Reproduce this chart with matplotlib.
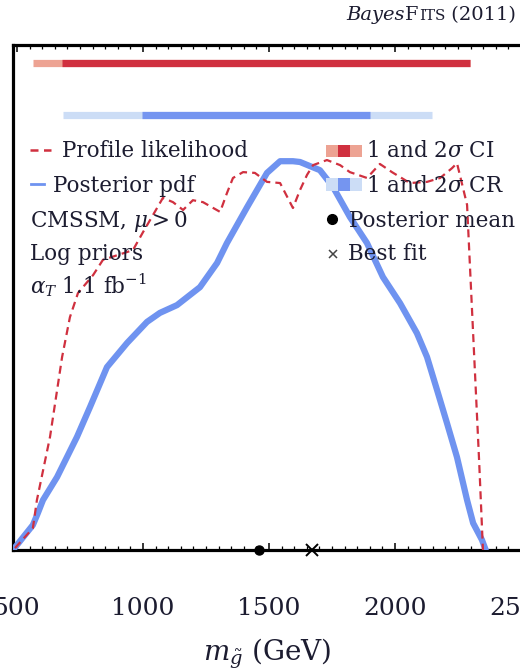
import matplotlib
matplotlib.use('Agg')
import matplotlib.pyplot as plt
from matplotlib.lines import Line2D
from matplotlib.patches import Rectangle
from matplotlib.offsetbox import TextArea, HPacker, AnchoredOffsetbox
from matplotlib.ticker import MultipleLocator

plt.rcParams['font.family'] = ['DejaVu Serif']
plt.rcParams['mathtext.fontset'] = 'dejavuserif'

# ---------------- data ----------------
# Posterior pdf (normalised to peak = 1)
post_x = [484, 563, 583, 603, 659, 738, 790, 857, 937, 1016, 1067, 1135, 1226, 1294,
          1333, 1413, 1492, 1544, 1595, 1623, 1702, 1754, 1821, 1889, 1952, 2020,
          2087, 2127, 2167, 2206, 2246, 2286, 2310, 2345, 2360]
post_y = [0.0, 0.064, 0.095, 0.128, 0.187, 0.290, 0.367, 0.469, 0.531, 0.585, 0.608,
          0.628, 0.674, 0.736, 0.787, 0.879, 0.967, 0.997, 0.997, 0.995, 0.974,
          0.931, 0.854, 0.787, 0.700, 0.633, 0.556, 0.495, 0.410, 0.326, 0.238,
          0.128, 0.069, 0.026, 0.0]

# Profile likelihood (normalised to peak = 1)
prof_x = [492, 563, 579, 631, 679, 710, 742, 802, 841, 960, 1000, 1028, 1079,
          1119, 1159, 1198, 1238, 1306, 1333, 1357, 1397, 1444, 1492, 1544, 1595,
          1623, 1651, 1675, 1730, 1782, 1821, 1889, 1940, 1988, 2059, 2127, 2179,
          2226, 2246, 2270, 2286, 2298, 2318, 2334, 2349]
prof_y = [0.005, 0.056, 0.128, 0.290, 0.495, 0.597, 0.659, 0.705, 0.744, 0.769,
          0.815, 0.846, 0.903, 0.892, 0.872, 0.897, 0.892, 0.867, 0.915, 0.954,
          0.969, 0.967, 0.944, 0.941, 0.877, 0.923, 0.962, 0.987, 1.000, 0.987,
          0.969, 0.954, 0.990, 0.969, 0.941, 0.944, 0.954, 0.979, 0.992, 0.928,
          0.885, 0.720, 0.446, 0.226, 0.0]

# Credible intervals (profile likelihood) and credible regions (posterior)
ci_1sigma = [679, 2298]
ci_2sigma = [563, 2298]
cr_1sigma = [996, 1901]
cr_2sigma = [683, 2147]
posterior_mean = 1460
best_fit = 1670

xticks = [500, 1000, 1500, 2000, 2500]
xtick_labels = ['500', '1000', '1500', '2000', '2500']

# ---------------- style ----------------
RED = '#D0303F'
RED_LIGHT = '#EDA393'
BLUE = '#6F93F0'
BLUE_DARK = '#7595F0'
BLUE_LIGHT = '#CCDDF6'
TXT = '#1c1c30'

W, H = 520, 670
fig = plt.figure(figsize=(W / 100, H / 100), dpi=100)


def fx(x):
    return x / W


def fy(y):
    return 1 - y / H


x_lo, x_hi = 483, 2540
left_px = 17 + (x_lo - 500) / 500 * 126
right_px = 17 + (x_hi - 500) / 500 * 126
top_px, bot_px = 45, 550
ax = fig.add_axes([fx(left_px), fy(bot_px), (right_px - left_px) / W, (bot_px - top_px) / H])
ax.set_xlim(x_lo, x_hi)
ax.set_ylim(0, 1.295)

ax.plot(post_x, post_y, color=BLUE, lw=4.5, solid_capstyle='round', solid_joinstyle='round', zorder=3)
ax.plot(prof_x, prof_y, color=RED, lw=1.6, dashes=(3.6, 2.3), zorder=4)

y_ci, y_cr = 1.249, 1.115
ax.hlines(y_ci, *ci_2sigma, color=RED_LIGHT, lw=5.2, capstyle='butt', zorder=2)
ax.hlines(y_ci, *ci_1sigma, color=RED, lw=5.2, capstyle='butt', zorder=2)
ax.hlines(y_cr, *cr_2sigma, color=BLUE_LIGHT, lw=5.2, capstyle='butt', zorder=2)
ax.hlines(y_cr, *cr_1sigma, color=BLUE_DARK, lw=5.2, capstyle='butt', zorder=2)

ax.plot([posterior_mean], [0], 'o', color='k', ms=6.5, clip_on=False, zorder=6)
ax.plot([best_fit], [0], 'x', color='k', ms=8, mew=1.4, clip_on=False, zorder=6)

ax.set_xticks(xticks)
ax.set_xticklabels(xtick_labels)
ax.xaxis.set_minor_locator(MultipleLocator(50))
ax.tick_params(axis='x', which='both', direction='in', top=True, bottom=True,
               colors='k', labelcolor=TXT)
ax.tick_params(axis='x', which='major', length=5, width=1.1, labelsize=18, pad=34)
ax.tick_params(axis='x', which='minor', length=3, width=0.9)
ax.tick_params(axis='y', left=False, labelleft=False)
for s in ax.spines.values():
    s.set_linewidth(2.3)
ax.set_xlabel(r'$m_{\tilde{g}}$ (GeV)', fontsize=20, color=TXT, labelpad=12)
ax.xaxis.label.set_x(0.49)

# ---------------- legend (manual) ----------------
fs = 15.5
fig.add_artist(Line2D([fx(30), fx(51)], [fy(150), fy(150)], transform=fig.transFigure,
                      color=RED, lw=1.8, dashes=(3.2, 2.2)))
fig.text(fx(62), fy(157), 'Profile likelihood', fontsize=fs, color=TXT, va='baseline')
fig.add_artist(Line2D([fx(31), fx(44)], [fy(184), fy(184)], transform=fig.transFigure,
                      color=BLUE, lw=2.0))
fig.text(fx(53), fy(192), 'Posterior pdf', fontsize=fs, color=TXT, va='baseline')
fig.text(fx(30), fy(227), r'CMSSM, $\mu > 0$', fontsize=fs, color=TXT, va='baseline')
fig.text(fx(30), fy(260), 'Log priors', fontsize=fs, color=TXT, va='baseline')
fig.text(fx(30), fy(293), r'$\alpha_T$ 1.1 fb$^{-1}$', fontsize=fs, color=TXT, va='baseline')

sw_x0, sw_w = 326, 12
for i, c in enumerate([RED_LIGHT, RED, RED_LIGHT]):
    fig.add_artist(Rectangle((fx(sw_x0 + i * sw_w), fy(157)), sw_w / W, 12 / H,
                             transform=fig.transFigure, color=c, lw=0))
for i, c in enumerate([BLUE_LIGHT, BLUE_DARK, BLUE_LIGHT]):
    fig.add_artist(Rectangle((fx(sw_x0 + i * sw_w), fy(191)), sw_w / W, 13 / H,
                             transform=fig.transFigure, color=c, lw=0))
fig.text(fx(366), fy(157), r'1 and 2$\sigma$ CI', fontsize=fs, color=TXT, va='baseline')
fig.text(fx(366), fy(192), r'1 and 2$\sigma$ CR', fontsize=fs, color=TXT, va='baseline')
fig.add_artist(Line2D([fx(332)], [fy(219)], transform=fig.transFigure, marker='o',
                      ms=7, color='k', lw=0))
fig.text(fx(349), fy(227), 'Posterior mean', fontsize=fs, color=TXT, va='baseline')
fig.add_artist(Line2D([fx(333)], [fy(254)], transform=fig.transFigure, marker='x',
                      ms=5.5, mew=1.1, color='#444444', lw=0))
fig.text(fx(348), fy(260), 'Best fit', fontsize=fs, color=TXT, va='baseline')

# ---------------- title ----------------
tfs = 14
parts = [TextArea('Bayes', textprops=dict(fontsize=tfs, style='italic', color=TXT)),
         TextArea('F', textprops=dict(fontsize=tfs, color=TXT)),
         TextArea('ITS', textprops=dict(fontsize=tfs * 0.78, color=TXT)),
         TextArea(' (2011)', textprops=dict(fontsize=tfs, color=TXT))]
box = HPacker(children=parts, align='baseline', pad=0, sep=0)
anch = AnchoredOffsetbox(loc='upper right', child=box, pad=0, borderpad=0, frameon=False,
                         bbox_to_anchor=(fx(516), fy(6)), bbox_transform=fig.transFigure)
fig.add_artist(anch)

fig.savefig('out.png', dpi=100)
